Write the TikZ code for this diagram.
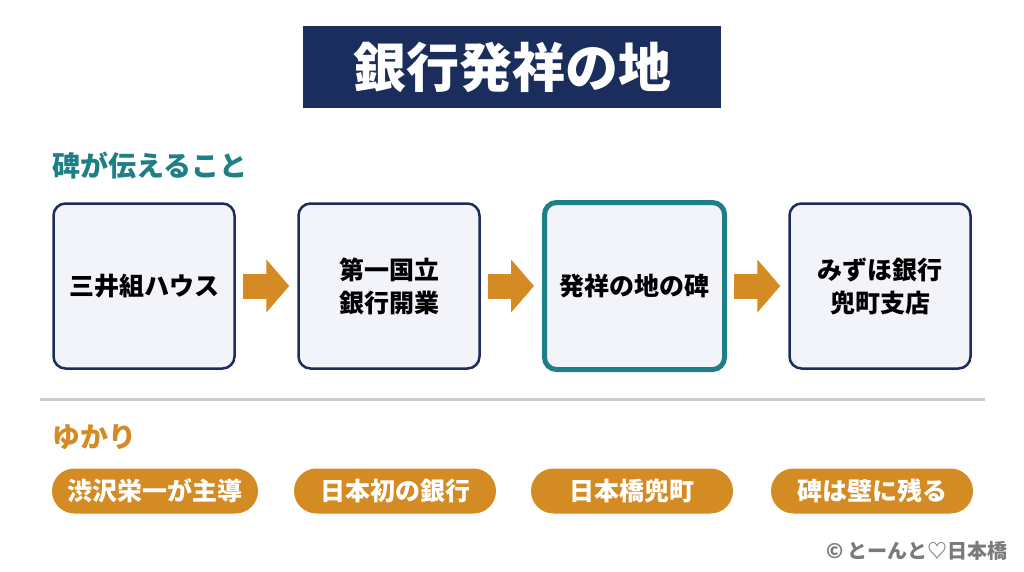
\documentclass[tikz,border=0pt]{standalone}
\usepackage{fontspec}
\setmainfont{Noto Sans CJK JP}[BoldFont={Noto Sans CJK JP Black}]
\usetikzlibrary{arrows.meta}
\definecolor{banknavy}{HTML}{1B2D5C}
\definecolor{stoneteal}{HTML}{1F7F86}
\definecolor{goldtag}{HTML}{D48B24}
\definecolor{boxfill}{HTML}{F2F4F9}
\definecolor{rulegray}{HTML}{CDCDCD}
\definecolor{notegray}{HTML}{7A7A7A}
\begin{document}
\begin{tikzpicture}[x=1pt, y=-1pt, font=\bfseries,
  stepbox/.style={draw=banknavy, line width=2.5pt, fill=boxfill, rounded corners=12pt,
    minimum width=181pt, minimum height=165pt, inner sep=0pt, align=center,
    font=\bfseries\fontsize{25}{33}\selectfont},
  flow/.style={draw=goldtag, line width=25pt, -{Triangle[length=23pt, width=52pt]},
    shorten <=7pt, shorten >=8pt},
  tag/.style={fill=goldtag, rounded corners=22.5pt, minimum height=45pt, inner sep=0pt,
    text=white, font=\bfseries\fontsize{25}{30}\selectfont},
  heading/.style={anchor=west, inner sep=0pt, font=\bfseries\fontsize{28}{32}\selectfont}]
  \useasboundingbox[fill=white] (0,0) rectangle (1024,572);
  % title
  \node[fill=banknavy, text=white, minimum width=418pt, minimum height=82pt, inner sep=0pt,
    font=\bfseries\fontsize{53}{60}\selectfont] (title) at (512,67) {銀行発祥の地};
  % what the stone tells
  \node[heading, text=stoneteal] (told) at (52,166) {碑が伝えること};
  \node[stepbox] (s1) at (144,286) {三井組ハウス};
  \node[stepbox] (s2) at (389,286) {第一国立\\銀行開業};
  \node[stepbox, draw=stoneteal, line width=5pt, minimum width=180pt, minimum height=167pt] (s3) at (634.5,286) {発祥の地の碑};
  \node[stepbox] (s4) at (880,286) {みずほ銀行\\兜町支店};
  \foreach \a/\b in {s1/s2,s2/s3,s3/s4}
    \draw[flow] (\a) -- (\b);
  % divider
  \coordinate (ruleL) at (40,399);
  \coordinate (ruleR) at (985,399);
  \draw[rulegray, line width=3pt] (ruleL) -- (ruleR);
  % links
  \node[heading, text=goldtag] (links) at (52,437) {ゆかり};
  \node[tag, minimum width=206pt] (t1) at (155,491) {渋沢栄一が主導};
  \node[tag, minimum width=202pt] (t2) at (395,491) {日本初の銀行};
  \node[tag, minimum width=202pt] (t3) at (632,491) {日本橋兜町};
  \node[tag, minimum width=202pt] (t4) at (872,491) {碑は壁に残る};
  % credit
  \node[anchor=east, inner sep=0pt, text=notegray, font=\bfseries\fontsize{20}{24}\selectfont] (credit) at (1008,551) {© とーんと♡日本橋};
\end{tikzpicture}
\end{document}
